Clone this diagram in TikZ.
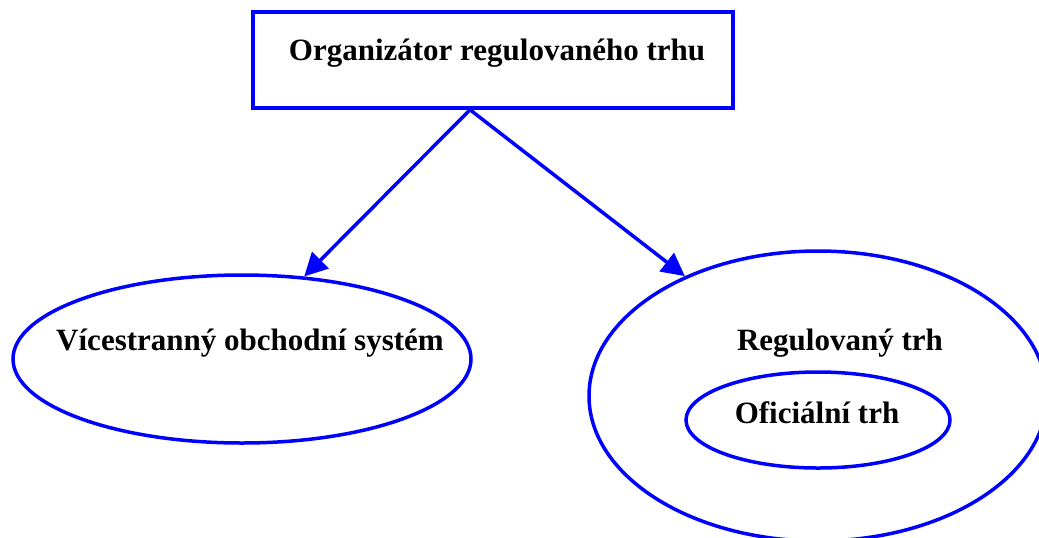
\documentclass[tikz,border=0pt]{standalone}
\usepackage{fontspec}
\setmainfont{Liberation Serif}
\usetikzlibrary{shapes.geometric,arrows.meta}

\begin{document}
\begin{tikzpicture}[x=0.5pt,y=-0.5pt,
	box/.style={draw=blue, line width=1.75pt, rectangle, minimum width=240pt, minimum height=48pt, inner sep=0pt},
	oval/.style={draw=blue, line width=1.75pt, ellipse, inner sep=0pt},
	lbl/.style={font=\fontsize{15.5}{18}\selectfont\bfseries, inner sep=0pt},
	link/.style={draw=blue, line width=1.75pt, -{Triangle[length=11.5pt,width=11.5pt]}}]
	\clip (0,0) rectangle (1039,537);

	\node[box](org) at (493,60) {};
	\node[oval, minimum width=229pt, minimum height=84pt](mts) at (242,359) {};
	\node[oval, minimum width=229pt, minimum height=145pt](rt) at (818,396) {};
	\node[oval, minimum width=132pt, minimum height=48pt](ot) at (818,420) {};

	\node[lbl](orgt) at (497,53) {Organizátor regulovaného trhu};
	\node[lbl](mtst) at (250,343) {Vícestranný obchodní systém};
	\node[lbl](rtt) at (840,343) {Regulovaný trh};
	\node[lbl](ott) at (817,413) {Oficiální trh};

	\coordinate (split) at ([xshift=-11.5pt]org.south);

	\draw[link](split) -- (mts.53);
	\draw[link](split) -- (rt.138);
\end{tikzpicture}
\end{document}
